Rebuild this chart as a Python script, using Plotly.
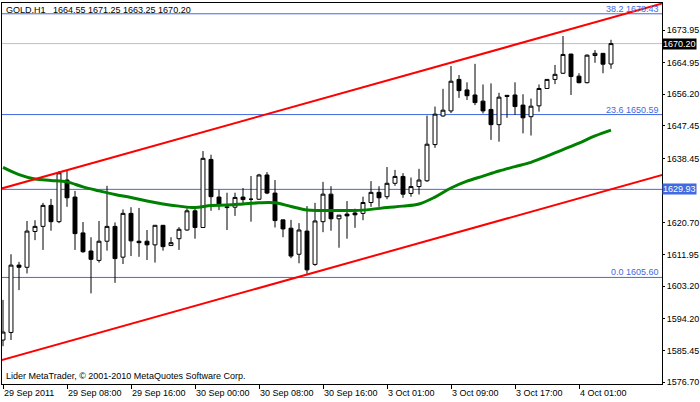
import plotly.graph_objects as go

# hourly GOLD bars, 29 Sep 2011 00:00 .. 4 Oct 2011 04:00 (bar index on x)
bars = list(range(77))
opens = [1588.3, 1590.4, 1609.0, 1608.4, 1618.3, 1619.7, 1625.5, 1621.0, 1632.5, 1627.8,
         1617.9, 1612.9, 1610.3, 1615.6, 1619.7, 1611.2, 1623.3, 1615.6, 1615.6, 1614.6,
         1620.0, 1614.4, 1616.3, 1618.7, 1624.0, 1619.4, 1638.2, 1627.8, 1625.1, 1625.0,
         1627.8, 1627.2, 1627.2, 1633.9, 1628.9, 1621.5, 1619.2, 1612.0, 1618.4, 1609.2,
         1621.0, 1628.6, 1621.8, 1623.1, 1623.4, 1623.3, 1626.3, 1629.1, 1627.9, 1631.6,
         1633.5, 1628.8, 1630.7, 1632.3, 1642.3, 1650.2, 1651.6, 1660.3, 1657.4, 1656.0,
         1654.3, 1652.0, 1647.8, 1655.9, 1656.0, 1653.2, 1650.0, 1653.0, 1657.8, 1660.3,
         1662.0, 1667.3, 1661.2, 1659.4, 1666.9, 1667.5, 1664.55]
highs = [1599.4, 1612.0, 1609.9, 1621.2, 1621.4, 1626.2, 1627.3, 1635.0, 1635.3, 1629.5,
         1620.9, 1616.7, 1621.2, 1630.9, 1620.8, 1624.4, 1625.0, 1624.8, 1618.7, 1620.0,
         1620.0, 1616.7, 1619.5, 1624.7, 1625.0, 1640.5, 1639.5, 1629.8, 1629.0, 1629.0,
         1630.3, 1633.6, 1634.2, 1634.7, 1632.5, 1621.5, 1621.5, 1620.6, 1625.3, 1626.2,
         1632.0, 1630.8, 1622.8, 1626.7, 1624.6, 1627.9, 1632.2, 1630.8, 1636.1, 1635.3,
         1634.4, 1633.2, 1635.6, 1650.3, 1652.8, 1657.7, 1664.0, 1661.5, 1659.5, 1664.6,
         1658.9, 1659.2, 1656.6, 1655.9, 1659.5, 1656.2, 1655.0, 1658.9, 1660.4, 1664.3,
         1672.3, 1667.4, 1662.0, 1667.2, 1668.4, 1667.6, 1671.25]
lows = [1586.6, 1588.3, 1602.1, 1606.7, 1615.9, 1613.2, 1618.5, 1620.6, 1625.1, 1613.2,
        1612.4, 1601.2, 1609.7, 1613.0, 1604.1, 1609.3, 1611.5, 1611.3, 1610.4, 1609.7,
        1613.0, 1614.4, 1613.2, 1618.5, 1616.3, 1619.4, 1624.0, 1624.2, 1618.7, 1622.6,
        1625.6, 1621.0, 1627.0, 1628.6, 1619.4, 1616.7, 1610.9, 1609.5, 1606.6, 1608.8,
        1618.1, 1618.5, 1613.8, 1616.3, 1619.3, 1621.4, 1625.1, 1625.1, 1627.2, 1630.9,
        1627.6, 1627.9, 1628.5, 1632.0, 1641.4, 1650.0, 1651.0, 1655.2, 1654.6, 1653.2,
        1650.9, 1643.6, 1643.1, 1649.7, 1650.5, 1645.4, 1644.8, 1651.4, 1657.7, 1659.0,
        1661.8, 1656.0, 1659.2, 1659.2, 1664.9, 1662.0, 1663.25]
closes = [1590.5, 1609.0, 1608.4, 1618.4, 1619.7, 1625.5, 1621.0, 1634.5, 1627.6, 1617.7,
          1612.7, 1610.6, 1615.6, 1619.7, 1610.8, 1623.3, 1615.7, 1615.2, 1614.6, 1620.0,
          1614.1, 1615.2, 1618.9, 1624.0, 1619.4, 1638.5, 1627.9, 1625.9, 1624.9, 1627.7,
          1627.1, 1627.2, 1633.9, 1628.9, 1621.3, 1619.0, 1611.5, 1618.7, 1607.7, 1621.2,
          1628.6, 1621.8, 1622.8, 1622.6, 1622.9, 1626.3, 1629.1, 1627.6, 1631.6, 1633.5,
          1628.6, 1630.7, 1632.5, 1642.4, 1650.7, 1651.8, 1659.8, 1657.2, 1655.8, 1653.9,
          1651.6, 1647.8, 1655.4, 1655.6, 1652.8, 1649.7, 1652.9, 1657.8, 1660.3, 1661.7,
          1667.2, 1661.1, 1659.4, 1667.0, 1667.5, 1664.5, 1670.20]

# moving average (read every second bar)
ma_bars = list(range(0, 77, 2))
ma_vals = [1636.0, 1634.0, 1632.8, 1632.4, 1632.0, 1630.6, 1629.5, 1628.5, 1627.7, 1626.7,
           1625.9, 1625.3, 1624.9, 1625.5, 1625.6, 1625.9, 1626.2, 1626.2, 1625.2, 1624.2,
           1624.1, 1624.1, 1624.1, 1624.4, 1624.9, 1625.3, 1625.9, 1627.8, 1630.3, 1632.2,
           1633.6, 1635.0, 1636.2, 1637.4, 1639.1, 1640.9, 1642.7, 1644.7, 1646.3]

# regression channel end points
chan_bars = [-1, 84]
chan_upper = [1629.66, 1682.27]
chan_lower = [1582.25, 1634.89]

fib_levels = [1678.43, 1650.59, 1605.60]
fib_names = ["38.2", "23.6", "0.0"]
hline_level = 1629.93
last_price = 1670.20

tick_pos = [0, 8, 16, 24, 32, 40, 48, 56, 64, 72]
tick_text = ["29 Sep 2011", "29 Sep 08:00", "29 Sep 16:00", "30 Sep 00:00", "30 Sep 08:00",
             "30 Sep 16:00", "3 Oct 01:00", "3 Oct 09:00", "3 Oct 17:00", "4 Oct 01:00"]
price_ticks = [1673.95, 1664.95, 1656.20, 1647.45, 1638.45, 1620.70, 1611.95, 1603.20,
               1594.20, 1585.45, 1576.70]

FONT = "Liberation Sans"
FS = 9
BLUE = "#4169E1"

fig = go.Figure()

for lvl in fib_levels + [hline_level]:
    fig.add_hline(y=lvl, line=dict(color=BLUE, width=1), layer="below")
fig.add_hline(y=last_price, line=dict(color="#C0C0C0", width=1), layer="below")

fig.add_trace(go.Scatter(x=ma_bars, y=ma_vals, mode="lines", line=dict(color="#008000", width=3, shape="spline")))
fig.add_trace(go.Scatter(x=chan_bars, y=chan_upper, mode="lines", line=dict(color="#FF0000", width=2)))
fig.add_trace(go.Scatter(x=chan_bars, y=chan_lower, mode="lines", line=dict(color="#FF0000", width=2)))

fig.add_trace(go.Candlestick(
    x=bars, open=opens, high=highs, low=lows, close=closes,
    increasing=dict(fillcolor="white", line=dict(color="black", width=1)),
    decreasing=dict(fillcolor="black", line=dict(color="black", width=1)),
    whiskerwidth=0,
))

annots = []
for lvl, nm in zip(fib_levels, fib_names):
    annots.append(dict(x=1, xref="paper", y=lvl, yref="y", xanchor="right", yanchor="bottom",
                       text=f"{nm} {lvl:.2f}", showarrow=False, xshift=-1, yshift=-2,
                       font=dict(family=FONT, size=FS, color=BLUE)))
annots.append(dict(x=1, xref="paper", y=last_price, yref="y", xanchor="left", yanchor="middle",
                   text=f"{last_price:.2f}", showarrow=False, bgcolor="black", borderpad=0, xshift=0,
                   font=dict(family=FONT, size=FS, color="white")))
annots.append(dict(x=1, xref="paper", y=hline_level, yref="y", xanchor="left", yanchor="middle",
                   text=f"{hline_level:.2f}", showarrow=False, bgcolor=BLUE, borderpad=0, xshift=0,
                   font=dict(family=FONT, size=FS, color="white")))
annots.append(dict(x=0, xref="paper", y=1, yref="paper", xanchor="left", yanchor="top",
                   text="GOLD.H1\u00a0\u00a0 1664.55 1671.25 1663.25 1670.20", showarrow=False,
                   xshift=2, yshift=0, font=dict(family=FONT, size=FS, color="black")))
annots.append(dict(x=0, xref="paper", y=0, yref="paper", xanchor="left", yanchor="bottom",
                   text="Lider MetaTrader, © 2001-2010 MetaQuotes Software Corp.", showarrow=False,
                   xshift=2, yshift=1, font=dict(family=FONT, size=FS, color="black")))

fig.update_layout(
    width=700, height=402,
    margin=dict(l=2, r=38, t=3, b=18, autoexpand=False),
    paper_bgcolor="white", plot_bgcolor="white",
    showlegend=False,
    annotations=annots,
    font=dict(family=FONT, size=FS, color="black"),
)
fig.update_xaxes(
    range=[-0.125, 82.375], rangeslider=dict(visible=False),
    showgrid=False, zeroline=False, automargin=False,
    showline=True, linecolor="black", linewidth=1, mirror=True,
    tickmode="array", tickvals=tick_pos, ticktext=tick_text, tickangle=0,
    ticks="outside", ticklen=4, tickcolor="black",
    ticklabelposition="outside right",
)
fig.update_yaxes(
    range=[1576.16, 1681.41], side="right",
    showgrid=False, zeroline=False, automargin=False,
    showline=True, linecolor="black", linewidth=1, mirror=True,
    tickmode="array", tickvals=price_ticks, tickformat=".2f",
    ticks="outside", ticklen=2, tickcolor="black",
)

# page body has a default 8px margin; drop it so the 700x402 figure fills the window
fig.write_html("out.html", config={"displayModeBar": False},
               post_script="document.body.style.margin='0';")
